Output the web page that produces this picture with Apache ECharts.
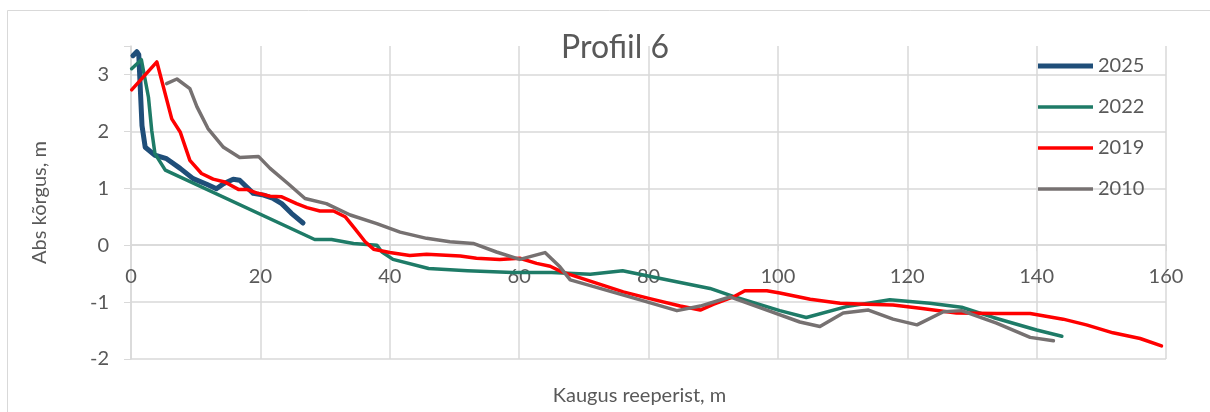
<!DOCTYPE html>
<html>
<head>
<meta charset="utf-8">
<script src="https://cdn.jsdelivr.net/npm/echarts@6/dist/echarts.min.js"></script>
<style>
  html, body { margin: 0; padding: 0; background: #fff; }
  #chart { width: 1210px; height: 412px; }
</style>
</head>
<body>
<div id="chart"></div>
<script>
// profile data: [distance m, elevation m]
var years = ['2025', '2022', '2019', '2010'];

var p2025 = [[0.3,3.33],[0.9,3.4],[1.2,3.35],[1.7,2.1],[2.2,1.72],[3.7,1.58],[5.5,1.52],[7.6,1.35],[9.6,1.17],
    [11.7,1.07],[13.2,0.99],[14.3,1.08],[15.8,1.16],[16.8,1.14],[17.9,1.02],[18.9,0.91],[20.5,0.88],[22,0.82],
    [23.3,0.73],[24.8,0.56],[26.6,0.39]];

var p2022 = [[0.1,3.1],[1.6,3.26],[2.7,2.6],[3.2,2.02],[3.7,1.61],[5.3,1.32],[28.4,0.1],[31,0.1],[34.4,0.03],
    [38,0],[38.8,-0.12],[40.5,-0.25],[46,-0.41],[52,-0.45],[59,-0.48],[65,-0.48],[71,-0.51],[76,-0.45],
    [80.7,-0.56],[89.5,-0.76],[93.1,-0.9],[100.3,-1.15],[104.4,-1.27],[110.6,-1.08],[117.3,-0.96],
    [123.5,-1.02],[128.4,-1.09],[133.3,-1.27],[140,-1.49],[143.9,-1.6]];

var p2019 = [[0.1,2.73],[4.0,3.22],[6.3,2.22],[7.6,1.99],[9.1,1.49],[10.9,1.26],[12.7,1.16],[14.5,1.11],
    [16.6,0.98],[17.9,0.98],[19.4,0.92],[21.5,0.86],[23.3,0.85],[25.6,0.73],[27.2,0.66],[29.2,0.6],[31.3,0.6],
    [33.1,0.5],[34.6,0.29],[36.2,0.06],[37.5,-0.07],[40,-0.13],[43.1,-0.18],[45.7,-0.16],[50.9,-0.19],
    [53.4,-0.23],[57,-0.25],[60.1,-0.23],[62.7,-0.32],[64.8,-0.37],[66.6,-0.47],[70.4,-0.61],[76.1,-0.82],
    [80.2,-0.94],[84.9,-1.07],[88,-1.14],[90,-1.04],[93.1,-0.91],[94.9,-0.8],[98.3,-0.8],[100.3,-0.84],
    [105,-0.95],[109.6,-1.02],[113.7,-1.04],[117.8,-1.05],[122,-1.11],[127.6,-1.19],[133.8,-1.2],[139,-1.2],
    [144.1,-1.3],[147.7,-1.4],[151.8,-1.54],[156,-1.64],[159.3,-1.77]];

var p2010 = [[5.5,2.84],[7.1,2.92],[9.1,2.75],[10.2,2.43],[11.9,2.05],[14.3,1.72],[16.8,1.54],[19.7,1.56],
    [21.5,1.35],[24.3,1.08],[26.9,0.82],[30.2,0.73],[33.9,0.53],[38,0.38],[41.6,0.23],[45.7,0.12],[49.3,0.06],
    [52.9,0.03],[56.5,-0.12],[60.1,-0.25],[64,-0.13],[66.3,-0.38],[67.9,-0.61],[72.5,-0.76],[78.7,-0.96],
    [84.4,-1.15],[88,-1.07],[92.6,-0.91],[98.3,-1.14],[103.4,-1.35],[106.5,-1.43],[110.1,-1.19],[114,-1.14],
    [117.8,-1.3],[121.5,-1.4],[125.6,-1.17],[128.4,-1.15],[133.8,-1.37],[139,-1.62],[142.6,-1.68]];

var colors = ['#1F4E79', '#1E7B67', '#FF0000', '#767171'];
var widths = [5, 3.5, 3.5, 3.5];
var profiles = [p2025, p2022, p2019, p2010];

var textColor = '#595959';
var gridColor = '#d9d9d9';
var font = 'Lato, "Open Sans", sans-serif';

var myChart = echarts.init(document.getElementById('chart'));

var series = [];
var legendData = [];
for (var i = 0; i < years.length; i++) {
    series.push({
        name: years[i],
        type: 'line',
        data: profiles[i],
        symbol: 'none',
        smooth: false,
        color: colors[i],
        lineStyle: { width: widths[i], color: colors[i], cap: 'round', join: 'round' }
    });
    // flat bar icon, as thick as the line
    legendData.push({
        name: years[i],
        icon: 'path://M0,0H55V' + widths[i] + 'H0Z'
    });
}

option = {
    animation: false,
    backgroundColor: '#fff',
    textStyle: { fontFamily: font },
    graphic: [{
        type: 'rect',
        shape: { x: 7.5, y: 10.5, width: 1220, height: 420 },
        style: { fill: 'none', stroke: gridColor, lineWidth: 1 },
        silent: true,
        z: -10
    }],
    title: {
        text: 'Profiil 6',
        left: 610,
        textAlign: 'center',
        top: 27,
        textStyle: { fontFamily: font, fontSize: 32, fontWeight: 'normal', color: textColor }
    },
    legend: {
        orient: 'vertical',
        left: 1033,
        top: 51,
        itemWidth: 55,
        itemHeight: 18,
        itemGap: 21,
        symbolKeepAspect: true,
        textStyle: { fontFamily: font, fontSize: 20, color: textColor },
        data: legendData
    },
    grid: { left: 131, right: 44, top: 46, bottom: 53, containLabel: false, outerBoundsMode: 'none' },
    xAxis: {
        type: 'value',
        min: 0,
        max: 160,
        interval: 20,
        name: 'Kaugus reeperist, m',
        nameLocation: 'middle',
        nameGap: 140,
        nameTextStyle: { fontFamily: font, fontSize: 20, color: textColor, padding: [0, 18, 0, 0] },
        axisLine: { show: true, onZero: false, lineStyle: { color: gridColor, width: 1.5 } },
        axisTick: { show: true, length: 6, lineStyle: { color: gridColor } },
        axisLabel: { fontFamily: font, fontSize: 20, color: textColor, margin: 21 },
        splitLine: { show: true, lineStyle: { color: gridColor, width: 1.5 } }
    },
    yAxis: {
        type: 'value',
        min: -2,
        max: 3.5,
        interval: 1,
        name: 'Abs kõrgus, m',
        nameLocation: 'middle',
        nameGap: 81,
        nameRotate: 90,
        nameTextStyle: { fontFamily: font, fontSize: 20, color: textColor },
        axisLine: { show: true, onZero: false, lineStyle: { color: gridColor, width: 1.5 } },
        axisTick: { show: true, length: 7, lineStyle: { color: gridColor } },
        axisLabel: {
            fontFamily: font, fontSize: 20, color: textColor, margin: 22,
            formatter: function (v) { return v > 3 ? '' : String(v); }
        },
        splitLine: { show: true, showMaxLine: false, lineStyle: { color: gridColor, width: 1.5 } }
    },
    series: series
};

myChart.setOption(option);

// the x axis crosses at elevation 0, so lift it up from the bottom of the grid
var zeroY = myChart.convertToPixel({ yAxisIndex: 0 }, 0);
var bottomY = myChart.convertToPixel({ yAxisIndex: 0 }, -2);
myChart.setOption({ xAxis: { offset: zeroY - bottomY } });
</script>
</body>
</html>
